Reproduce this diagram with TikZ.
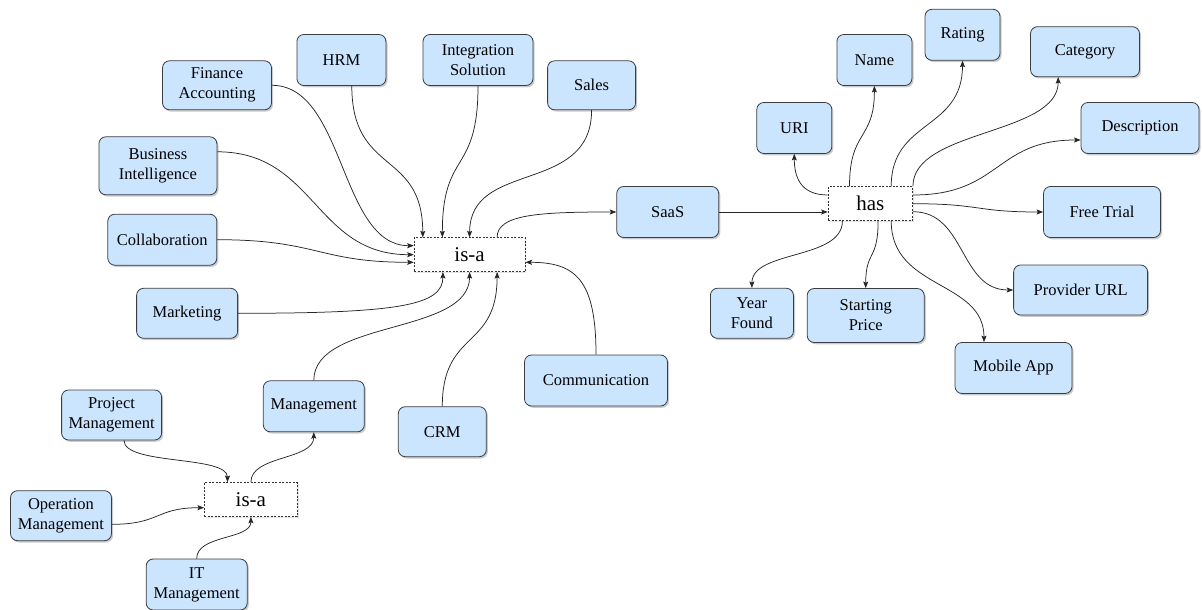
\documentclass[tikz,border=0pt]{standalone}
\usepackage{fontspec}
\setmainfont{Liberation Serif}
\usetikzlibrary{calc,arrows.meta,shadows}
\definecolor{boxfill}{HTML}{CCE5FF}
\definecolor{boxline}{HTML}{3A3D42}
\tikzset{
  concept/.style={draw=boxline, fill=boxfill, line width=0.8pt, rounded corners=7pt,
    align=center, font=\fontsize{16.5}{20}\selectfont, inner sep=0pt,
    drop shadow={shadow xshift=1.6pt, shadow yshift=-1.8pt, opacity=0.45, fill=black!45}},
  relation/.style={draw=black!80, fill=white, line width=0.7pt, dash pattern=on 2pt off 1.5pt,
    align=center, font=\fontsize{21}{25}\selectfont, inner sep=0pt,
    drop shadow={shadow xshift=1.2pt, shadow yshift=-1.2pt, opacity=0.25, fill=black!40}},
  link/.style={draw=black!85, line width=0.75pt, -{Stealth[length=6.5pt,width=5pt,inset=1.2pt]}},
}
\newcommand{\cbox}[6]{\node[concept, minimum width=#4pt, minimum height=#5pt] (#1) at (#2,#3) {#6};}
\begin{document}
\begin{tikzpicture}[x=1pt, y=-1pt]
\useasboundingbox (0,0) rectangle (1202,610);

% --- left cluster: categories of SaaS
\cbox{fin}{217}{85.3}{109}{49}{Finance\\Accounting}
\cbox{hrm}{341.4}{60}{89}{51}{HRM}
\cbox{integ}{478}{60}{110}{51}{Integration\\Solution}
\cbox{sales}{591.6}{85.3}{88}{49}{Sales}
\cbox{bi}{157.9}{165.8}{118}{58}{Business\\Intelligence}
\cbox{collab}{162.3}{239.7}{109}{51}{Collaboration}
\cbox{mkt}{187.1}{313.3}{101}{50}{Marketing}
\cbox{mgmt}{313.8}{406.3}{101}{51}{Management}
\cbox{crm}{442.3}{431.7}{88}{50}{CRM}
\cbox{comm}{596}{380.5}{143}{51}{Communication}
\cbox{pm}{111.6}{415}{100}{50}{Project\\Management}
\cbox{opm}{61}{515.7}{101}{50}{Operation\\Management}
\cbox{itm}{196.7}{584.5}{101}{51}{IT\\Management}

\node[relation, minimum width=111pt, minimum height=34pt] (isa) at (469.6,254.7) {is-a};
\node[relation, minimum width=93pt, minimum height=34pt] (isa2) at (250.9,499.5) {is-a};

% --- right cluster: SaaS properties
\cbox{saas}{667.7}{212}{102}{51}{SaaS}
\node[relation, minimum width=84.5pt, minimum height=34pt] (has) at (870.3,203.7) {has};
\cbox{uri}{794.3}{128}{75}{51}{URI}
\cbox{name}{874.4}{60}{75}{51}{Name}
\cbox{rating}{962.5}{34.8}{75}{51}{Rating}
\cbox{cat}{1085}{51.7}{109}{50}{Category}
\cbox{desc}{1140}{128}{118}{51}{Description}
\cbox{free}{1102}{212}{117}{51}{Free Trial}
\cbox{prov}{1080.6}{290}{134}{50}{Provider URL}
\cbox{mob}{1013.5}{368}{117}{51}{Mobile App}
\cbox{year}{751.9}{313.3}{83}{50}{Year\\Found}
\cbox{sprice}{865.7}{315.5}{117}{54}{Starting\\Price}

% --- is-a edges into the main relation
\draw[link] ($(hrm.south)+(10.4,0)$) .. controls +(0,90) and +(0,-88) .. ($(isa.north west)+(9,0)$);
\draw[link] (integ.south) .. controls +(0,90) and +(0,-88) .. ($(isa.north west)+(28.6,0)$);
\draw[link] (sales.south) .. controls +(0,85) and +(0,-78) .. (isa.north);
\draw[link] (fin.east) .. controls +(73,0) and +(-74,0) .. ($(isa.west)+(0,-9)$);
\draw[link] ($(bi.east)+(0,-14)$) .. controls +(98,0) and +(-99,0) .. (isa.west);
\draw[link] (collab.east) .. controls +(101,0) and +(-96,0) .. ($(isa.west)+(0,7.6)$);
\draw[link] (mkt.east) .. controls +(163,0) and +(0,33) .. ($(isa.south)+(-26.7,0)$);
\draw[link] (mgmt.north) .. controls +(0,-61) and +(0,63) .. (isa.south);
\draw[link] (crm.north) .. controls +(0,-77) and +(0,78) .. ($(isa.south)+(27.5,0)$);
\draw[link] (comm.north) .. controls +(0,-75) and +(50,0) .. ($(isa.east)+(0,7.6)$);
\draw[link] ($(isa.north)+(27.5,0)$) .. controls +(0,-23) and +(-77,0) .. (saas.west);

% --- management sub-hierarchy
\draw[link] ($(pm.south)+(12.4,0)$) .. controls +(0,25) and +(0,-27) .. ($(isa2.north)+(-23.4,0)$);
\draw[link] ($(opm.east)+(0,8.6)$) .. controls +(49,0) and +(-49,0) .. ($(isa2.west)+(0,8.2)$);
\draw[link] (itm.north) .. controls +(0,-24) and +(0,23) .. (isa2.south);
\draw[link] (isa2.north) .. controls +(0,-27) and +(0,28) .. (mgmt.south);

% --- has edges
\draw[link] (saas.east) -- (saas.east -| has.west);
\draw[link] ($(has.west)+(0,-8.7)$) .. controls +(-28,0) and +(0,22) .. (uri.south);
\draw[link] ($(has.north west)+(21.8,0)$) .. controls +(0,-57) and +(0,55) .. (name.south);
\draw[link] ($(has.north west)+(63.5,0)$) .. controls +(0,-67) and +(0,70) .. (rating.south);
\draw[link] (has.north east) .. controls +(0,-57) and +(0,58) .. ($(cat.south)+(-26.8,0)$);
\draw[link] ($(has.east)+(0,-8.7)$) .. controls +(88,0) and +(-86,0) .. ($(desc.west)+(0,12)$);
\draw[link] (has.east) .. controls +(68,0) and +(-68,0) .. (free.west);
\draw[link] ($(has.east)+(0,8)$) .. controls +(53,0) and +(-54,0) .. (prov.west);
\draw[link] ($(has.south west)+(63.5,0)$) .. controls +(0,69) and +(0,-62) .. ($(mob.north)+(-29.5,0)$);
\draw[link] ($(has.south west)+(50.4,0)$) .. controls +(0,40) and +(0,-38) .. (sprice.north);
\draw[link] ($(has.south west)+(14.7,0)$) .. controls +(0,39) and +(0,-38) .. (year.north);
\end{tikzpicture}
\end{document}
